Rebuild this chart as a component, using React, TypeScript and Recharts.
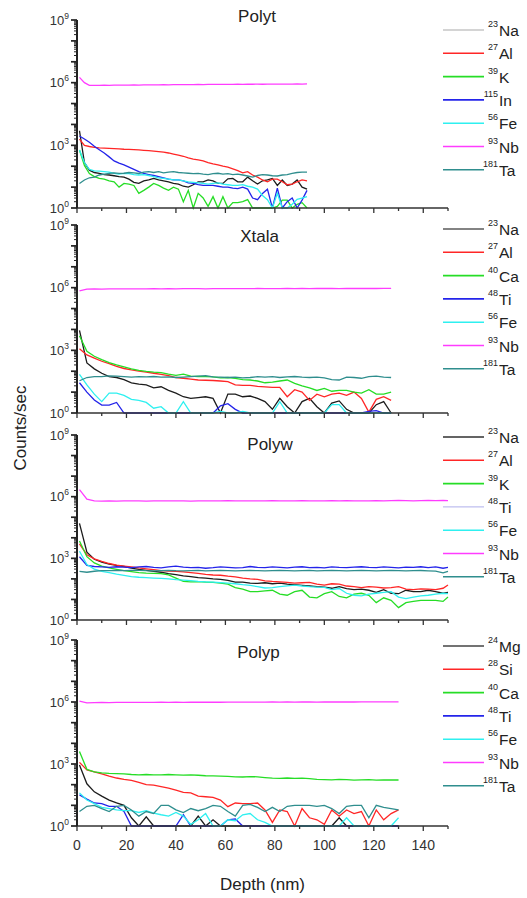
import React from 'react';
import { LineChart, Line, XAxis, YAxis, Legend } from 'recharts';

const FONT = "'Liberation Sans', Arial, Helvetica, sans-serif";

// ---------- depth axes (nm) ----------
const polytDepth = [1,3,5,7,9,11,13,15,17,19,21,23,25,27,29,31,33,35,37,39,41,43,45,47,49,51,53,55,57,59,61,63,65,67,69,71,73,75,77,79,81,83,85,87,89,91,93];
const xtalaDepth = [1,4,7,10,13,16,19,22,25,28,31,34,37,40,43,46,49,52,55,58,61,64,67,70,73,76,79,82,85,88,91,94,97,100,103,106,109,112,115,118,121,124,127];
const polywDepth = [1,4,7,10,13,16,19,22,25,28,31,34,37,40,43,46,49,52,55,58,61,64,67,70,73,76,79,82,85,88,91,94,97,100,103,106,109,112,115,118,121,124,127,130,133,136,139,142,145,148,150];
const polypDepth = [1,4,7,10,13,16,19,22,25,28,31,34,37,40,43,46,49,52,55,58,61,64,67,70,73,76,79,82,85,88,91,94,97,100,103,106,109,112,115,118,121,124,127,130];

// ---------- Polyt ----------
const polytNa = [5000,150,65,50,45,40,38,35,32,30,24,17,15,20,22,26,22,20,18,15,14,11,10,13,18,18,22,20,15,15,25,26,18,18,30,20,14,20,22,26,12,22,12,14,22,10,8];
const polytAl = [2000,1000,880,800,760,740,720,700,680,650,640,620,600,580,560,530,500,470,430,380,340,300,250,220,200,180,150,130,115,100,90,75,62,48,55,38,30,22,18,24,24,18,13,14,18,22,20];
const polytK = [600,110,45,32,26,24,20,18,10,15,14,12,5,7,10,15,12,9,7,10,8,2,7,1,5,3,1.2,3.5,1,3.5,1,1.8,1.8,2,2.5,1,1,1,1,1,1.2,2.4,2.4,1,1.5,1.8,1];
const polytIn = [2800,2000,1400,900,620,430,280,180,140,115,90,70,55,45,40,36,32,28,24,22,22,20,16,15,13,12,12,12,11,10,10,9,8.5,10,8,3,2.5,5,8,1,9,1,2,3,1,2.4,7];
const polytFe = [600,150,70,60,58,55,52,45,42,45,44,40,38,40,36,32,28,26,24,22,22,20,18,17,16,15,14,15,16,14,13,12,12,13,11,10,8,4,2.5,1,5,1,1,1.5,2.6,3,3.5];
const polytNb = [1.8e6,1.0e6,7.5e5,7.4e5,7.5e5,7.6e5,7.5e5,7.6e5,7.7e5,7.6e5,7.7e5,7.8e5,7.7e5,7.8e5,7.9e5,7.8e5,7.9e5,8.0e5,7.9e5,8.0e5,8.0e5,8.1e5,8.0e5,8.1e5,8.2e5,8.1e5,8.2e5,8.2e5,8.3e5,8.2e5,8.3e5,8.3e5,8.4e5,8.3e5,8.4e5,8.4e5,8.5e5,8.4e5,8.5e5,8.5e5,8.6e5,8.5e5,8.6e5,8.6e5,8.7e5,8.6e5,8.7e5];
const polytTa = [15,22,28,30,38,42,45,48,45,46,50,48,45,52,55,50,55,48,52,55,50,48,46,44,45,42,40,44,46,42,44,40,42,38,34,30,36,40,38,35,34,38,40,46,50,52,52];

// ---------- Xtala ----------
const xtalaNa = [9000,250,130,80,55,50,40,28,24,22,16,18,12,9,6,5,5.5,6,5,1,8,8,6,6.5,5,3.5,1.5,5,2,1,3.5,5,2,1,3,3.8,1.5,1,1,1,2.5,3.5,1];
const xtalaAl = [1200,600,420,300,230,170,135,115,100,90,80,70,62,50,46,42,38,37,36,34,32,22,21,21,19,18,17,17,6,13,10,4,8,6,8,9,7,10,5,1.1,4.5,6,4];
const xtalaCa = [5000,900,520,360,260,200,160,130,110,98,90,85,72,64,72,58,56,55,54,48,50,45,40,38,34,28,30,34,38,26,20,16,12,15,11,12,12,10,9,13,8,8,10];
const xtalaTi = [28,10,4.2,2.4,2.4,3.2,1,1,1,1,1,1,1,1,1,1,1,1,1,2.2,2.8,1.5,1,1,1,1,1,1,1,1,1,1,1,1,1,1,1,1,1,1.2,1.3,1,1];
const xtalaFe = [70,22,8,3.5,9,9,7,4.5,4,3.2,1.7,2,1,1,3.5,1,1,1,1,1.2,1,1,1.2,1,1,1,1,3.5,1,1,1,1,1,1,2.5,2.5,1,1,1,1,1,1,1];
const xtalaNb = [7.0e5,8.6e5,8.7e5,8.6e5,8.7e5,8.8e5,8.7e5,8.8e5,8.7e5,8.8e5,8.9e5,8.8e5,8.9e5,8.8e5,8.9e5,9.0e5,8.9e5,8.8e5,8.9e5,9.0e5,8.9e5,9.0e5,8.9e5,9.0e5,9.1e5,9.0e5,8.9e5,9.0e5,9.1e5,9.0e5,9.1e5,9.0e5,9.1e5,9.2e5,9.1e5,9.0e5,9.1e5,9.2e5,9.1e5,9.2e5,9.1e5,9.2e5,9.2e5];
const xtalaTa = [35,50,55,55,60,58,55,52,55,54,56,52,54,50,52,55,58,62,54,52,50,52,48,50,55,52,55,50,54,56,52,50,52,48,40,38,52,50,46,55,58,52,50];

// ---------- Polyw ----------
const polywNa = [50000,2000,900,650,520,450,400,330,290,260,230,210,180,160,140,130,115,108,100,95,85,70,70,62,60,65,58,62,55,52,48,45,42,40,35,42,34,30,32,28,22,30,20,19,28,24,24,28,24,20,22];
const polywAl = [5000,1500,950,720,560,470,420,380,340,310,280,250,240,230,220,200,185,165,155,150,135,125,110,100,95,80,75,72,68,62,65,68,55,50,58,55,45,42,38,42,40,36,38,42,32,30,33,32,30,35,50];
const polywK = [7000,1200,600,420,340,290,250,225,200,190,186,180,155,110,75,72,74,70,68,62,55,38,32,24,24,26,28,18,16,24,28,13,12,19,24,14,12,18,20,16,7,12,9,4,7,8,9,9,9,8,13];
const polywTi = [1200,450,400,380,360,390,370,350,380,400,360,340,380,420,370,350,360,330,350,380,360,340,350,400,360,350,380,360,340,370,390,350,360,340,380,360,350,370,390,360,350,380,360,340,370,360,390,350,380,330,360];
const polywFe = [2200,500,300,230,200,170,150,130,120,115,110,105,100,92,88,82,75,72,70,66,62,58,52,48,42,36,38,42,46,50,45,42,40,39,30,34,20,16,15,18,20,22,24,13,11,13,15,16,18,20,19];
const polywNb = [2.2e6,7.5e5,6.2e5,6.1e5,6.2e5,6.1e5,6.2e5,6.3e5,6.2e5,6.1e5,6.2e5,6.3e5,6.2e5,6.3e5,6.2e5,6.1e5,6.2e5,6.3e5,6.2e5,6.3e5,6.4e5,6.3e5,6.2e5,6.3e5,6.2e5,6.3e5,6.4e5,6.3e5,6.2e5,6.3e5,6.4e5,6.3e5,6.2e5,6.3e5,6.4e5,6.3e5,6.4e5,6.3e5,6.2e5,6.3e5,6.4e5,6.3e5,6.4e5,6.5e5,6.4e5,6.3e5,6.4e5,6.5e5,6.4e5,6.5e5,6.4e5];
const polywTa = [230,210,235,250,255,260,250,258,262,250,245,255,262,250,248,252,258,245,250,256,252,246,250,258,250,244,252,256,250,246,252,258,246,250,256,252,244,250,258,252,246,250,256,250,244,252,256,248,240,195,235];

// ---------- Polyp ----------
const polypMg = [900,110,45,28,18,13,10,2.5,1,2.8,1,1,1,1,1,1,3,1,2,1,1,1,1,1,1,1,1,1,1,1,1,1,1,1,1,2.5,1,1,1,1,1,1,1,1];
const polypSi = [1200,520,420,330,260,210,180,160,130,100,95,80,68,55,42,40,28,26,24,18,8.6,13,12,12,13,6,1.5,6,5,1,7,2.5,2,1.2,6,3,6,4,5,1,6,2,4,6];
const polypCa = [4000,550,420,370,350,340,330,310,300,310,300,295,310,300,290,300,285,270,265,260,250,240,235,245,240,220,205,200,210,200,205,195,180,175,170,180,175,165,170,175,165,170,168,168];
const polypTi = [32,20,13,12,9,9,5,1,1,1,1,1,1,1,3.5,1,1,1,1,1,2,2.2,1,1,1,1,1,1,1,1,1,1,1,1,1,1,1,1,1,1,1,1,1,1];
const polypFe = [40,18,12,8,7,6,5.5,5.5,4.5,5.5,4.2,3.5,3,4.5,3,1.2,2,4,1,1,2,1.8,3.5,4,2,1.5,1,1,1,1,1,1,1,1,1,1,2.5,1,1,1,1,1,1,2.5];
const polypNb = [1.1e6,9.0e5,9.4e5,9.5e5,9.4e5,9.5e5,9.6e5,9.5e5,9.6e5,9.5e5,9.6e5,9.7e5,9.6e5,9.7e5,9.6e5,9.7e5,9.8e5,9.7e5,9.8e5,9.7e5,9.8e5,9.9e5,9.8e5,9.9e5,9.8e5,9.9e5,1.0e6,9.9e5,1.0e6,9.9e5,1.0e6,1.0e6,9.9e5,1.0e6,1.01e6,1.0e6,1.01e6,1.0e6,1.01e6,1.02e6,1.01e6,1.02e6,1.01e6,1.02e6];
const polypTa = [5,9,10,7,5,9,10,6,3,5,4,10,10,6,4.5,7,5.5,7,10,9,5,3,10,11,8,5,8,5,9,10,10,10,9,10,7,4,9,10,10,2.5,10,8,7,6];

// ---------- ticks ----------
const xTicks = [0,10,20,30,40,50,60,70,80,90,100,110,120,130,140,150];
const xLabelTicks = [0,20,40,60,80,100,120,140];
const yDecades = [1,1e1,1e2,1e3,1e4,1e5,1e6,1e7,1e8,1e9];
const yLabelTicks = [1,1e3,1e6,1e9];
const yMinorMultipliers = [2,3,4,5,6,7,8,9];

const yTicks: number[] = [];
yDecades.forEach((d, i) => {
  yTicks.push(d);
  if (i < yDecades.length - 1) yMinorMultipliers.forEach((m) => yTicks.push(d * m));
});

// ---------- colours ----------
const C_BLACK = '#1c1c1c';
const C_RED = '#ff2626';
const C_GREEN = '#26dd26';
const C_BLUE = '#2424ea';
const C_CYAN = '#2ef0f0';
const C_MAGENTA = '#ff3cff';
const C_TEAL = '#2f8e8e';

type Series = { mass: string; el: string; data: number[]; color: string; legendColor: string; legendWidth: number };

const mk = (mass: string, el: string, data: number[], color: string, legendColor?: string, legendWidth?: number): Series => ({
  mass, el, data, color, legendColor: legendColor || color, legendWidth: legendWidth || 1.6,
});

const panels = [
  {
    title: 'Polyt', titleX: 257, titleY: 21.5, depth: polytDepth,
    top: 0, height: 218, marginTop: 20, xAxisHeight: 10, showLabels: false, legendTop: 22,
    series: [
      mk('23', 'Na', polytNa, C_BLACK, '#c6c6c6'),
      mk('27', 'Al', polytAl, C_RED),
      mk('39', 'K', polytK, C_GREEN),
      mk('115', 'In', polytIn, C_BLUE),
      mk('56', 'Fe', polytFe, C_CYAN),
      mk('93', 'Nb', polytNb, C_MAGENTA),
      mk('181', 'Ta', polytTa, C_TEAL),
    ],
  },
  {
    title: 'Xtala', titleX: 259.5, titleY: 241.5, depth: xtalaDepth,
    top: 215, height: 208, marginTop: 10, xAxisHeight: 10, showLabels: false, legendTop: 5.5,
    series: [
      mk('23', 'Na', xtalaNa, C_BLACK, '#5a5a5a'),
      mk('27', 'Al', xtalaAl, C_RED),
      mk('40', 'Ca', xtalaCa, C_GREEN),
      mk('48', 'Ti', xtalaTi, C_BLUE),
      mk('56', 'Fe', xtalaFe, C_CYAN),
      mk('93', 'Nb', xtalaNb, C_MAGENTA),
      mk('181', 'Ta', xtalaTa, C_TEAL),
    ],
  },
  {
    title: 'Polyw', titleX: 270, titleY: 449.5, depth: polywDepth,
    top: 425, height: 205, marginTop: 10, xAxisHeight: 10, showLabels: false, legendTop: 3.5,
    series: [
      mk('23', 'Na', polywNa, C_BLACK, '#303030'),
      mk('27', 'Al', polywAl, C_RED),
      mk('39', 'K', polywK, C_GREEN),
      mk('48', 'Ti', polywTi, C_BLUE, '#9a9ae6', 0.8),
      mk('56', 'Fe', polywFe, C_CYAN),
      mk('93', 'Nb', polywNb, C_MAGENTA),
      mk('181', 'Ta', polywTa, C_TEAL),
    ],
  },
  {
    title: 'Polyp', titleX: 258.5, titleY: 657.5, depth: polypDepth,
    top: 630, height: 264, marginTop: 10, xAxisHeight: 68, showLabels: true, legendTop: 7.5,
    series: [
      mk('24', 'Mg', polypMg, C_BLACK, '#444444'),
      mk('28', 'Si', polypSi, C_RED),
      mk('40', 'Ca', polypCa, C_GREEN),
      mk('48', 'Ti', polypTi, C_BLUE),
      mk('56', 'Fe', polypFe, C_CYAN),
      mk('93', 'Nb', polypNb, C_MAGENTA),
      mk('181', 'Ta', polypTa, C_TEAL),
    ],
  },
];

function buildRows(depth: number[], series: Series[]) {
  return depth.map((d, i) => {
    const r: Record<string, number> = { depth: d };
    series.forEach((s, j) => { r['s' + j] = s.data[i]; });
    return r;
  });
}

const YTick = (props: any) => {
  const { x, y, payload } = props;
  const v = payload.value as number;
  const lg = Math.log10(v);
  const e = Math.round(lg);
  const isDecade = Math.abs(lg - e) < 1e-6;
  const labeled = isDecade && yLabelTicks.includes(v);
  const len = isDecade ? 6 : 3;
  return (
    <g>
      <line x1={x - len} y1={y} x2={x} y2={y} stroke="#222" strokeWidth={isDecade ? 1.7 : 1} />
      {labeled && (
        <text x={x - 8} y={y + 4.6} textAnchor="end" fontSize={13} fill="#333" fontFamily={FONT}>
          10<tspan fontSize={8.5} dy={-6}>{e}</tspan>
        </text>
      )}
    </g>
  );
};

const makeXTick = (showLabels: boolean) => (props: any) => {
  const { x, y, payload } = props;
  const v = payload.value as number;
  const major = v % 20 === 0;
  return (
    <g>
      <line x1={x} y1={y} x2={x} y2={y + (major ? 5 : 3)} stroke="#333" strokeWidth={1.3} />
      {showLabels && xLabelTicks.includes(v) && (
        <text x={x} y={y + 24} textAnchor="middle" fontSize={14} fill="#333" fontFamily={FONT}>{v}</text>
      )}
    </g>
  );
};

const LegendBox = ({ items }: { items: Series[] }) => (
  <svg width={90} height={172} style={{ display: 'block', overflow: 'visible' }}>
    {items.map((it, i) => {
      const y = 8 + i * 23.3;
      return (
        <g key={i}>
          <line x1={3} y1={y} x2={44} y2={y} stroke={it.legendColor} strokeWidth={it.legendWidth} />
          <text x={58} y={y - 3} fontSize={9} textAnchor="end" fill="#222" fontFamily={FONT}>{it.mass}</text>
          <text x={59} y={y + 6} fontSize={15.5} fill="#222" fontFamily={FONT}>{it.el}</text>
        </g>
      );
    })}
  </svg>
);

export default function App() {
  return (
    <div style={{ position: 'absolute', left: 0, top: 0, width: 527, height: 898, background: '#fff', fontFamily: FONT }}>
      {panels.map((p, pi) => {
        const rows = buildRows(p.depth, p.series);
        return (
          <div key={pi} style={{ position: 'absolute', left: 0, top: p.top, width: 527, height: p.height }}>
            <LineChart width={527} height={p.height} data={rows} margin={{ top: p.marginTop, right: 79, left: 17, bottom: 0 }}>
              <XAxis
                dataKey="depth" type="number" domain={[0, 150]} ticks={xTicks} interval={0}
                height={p.xAxisHeight} tickSize={0} tickMargin={0} tickLine={false}
                axisLine={{ stroke: '#333', strokeWidth: 1.5 }}
                tick={makeXTick(p.showLabels)}
                label={p.showLabels ? { value: 'Depth (nm)', position: 'insideBottom', offset: 4, fontSize: 17, fill: '#222', fontFamily: FONT } : undefined}
              />
              <YAxis
                type="number" scale="log" domain={[1, 1e9]} ticks={yTicks} interval={0}
                width={60} tickSize={0} tickMargin={0} tickLine={false}
                axisLine={{ stroke: '#222', strokeWidth: 2 }}
                tick={(tp: any) => <YTick {...tp} />}
              />
              {p.series.map((s, j) => (
                <Line
                  key={j} type="linear" dataKey={'s' + j} name={s.el} stroke={s.color}
                  strokeWidth={1.3} dot={false} isAnimationActive={false}
                />
              ))}
              <Legend
                layout="vertical" align="center" verticalAlign="middle" width={90} height={172}
                wrapperStyle={{ left: 440, top: p.legendTop, width: 90, height: 172 }}
                content={() => <LegendBox items={p.series} />}
              />
            </LineChart>
          </div>
        );
      })}
      <svg width={527} height={898} style={{ position: 'absolute', left: 0, top: 0, pointerEvents: 'none' }}>
        {panels.map((p, pi) => (
          <text key={pi} x={p.titleX} y={p.titleY} textAnchor="middle" fontSize={17} fill="#222" fontFamily={FONT}>{p.title}</text>
        ))}
        <text transform="translate(26,428) rotate(-90)" textAnchor="middle" fontSize={17} fill="#222" fontFamily={FONT}>Counts/sec</text>
      </svg>
    </div>
  );
}
